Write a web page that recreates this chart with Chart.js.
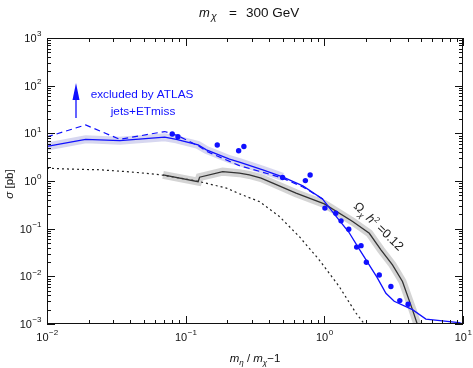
<!DOCTYPE html>
<html>
<head>
<meta charset="utf-8">
<script src="https://cdn.jsdelivr.net/npm/chart.js@4.4.1/dist/chart.umd.min.js"></script>
<style>
  html, body { margin: 0; padding: 0; background: #fff; }
</style>
</head>
<body>
<canvas id="c" width="473" height="368"></canvas>
<script>
// ATLAS jets+ETmiss limit, observed (solid) and expected (dashed)
var obsX = [0.01, 0.019, 0.0335, 0.0706, 0.0857, 0.123, 0.141, 0.207, 0.244, 0.36, 0.50, 0.70, 0.97, 1.2, 1.5, 1.8, 2.4, 2.78, 3.19, 4.32, 5.4, 9.35, 10];
var obsY = [5.3, 7.5, 7.0, 8.3, 7.5, 5.7, 4.5, 2.87, 2.5, 1.71, 1.22, 0.79, 0.42, 0.19, 0.085, 0.036, 0.0095, 0.0044, 0.003, 0.002, 0.00127, 0.00107, 0.001];
var expX = [0.01, 0.019, 0.0335, 0.0706, 0.087, 0.123, 0.141, 0.244, 0.34, 0.5, 0.7, 1.0];
var expY = [8.4, 15, 7.5, 10.9, 9.0, 5.5, 4.2, 2.1, 1.6, 1.15, 0.75, 0.40];

// relic density curve Omega h^2 = 0.12
var relicX = [0.0687, 0.123, 0.126, 0.185, 0.244, 0.288, 0.35, 0.425, 0.625, 1.0, 1.6, 2.11, 2.56, 3.1, 3.66, 4.32, 4.8];
var relicY = [1.34, 0.97, 1.2, 1.57, 1.46, 1.34, 1.15, 0.90, 0.555, 0.33, 0.141, 0.08, 0.036, 0.0174, 0.0078, 0.002, 0.0008];

// dotted theory curve
var thX = [0.01, 0.0155, 0.024, 0.04, 0.065, 0.1, 0.126, 0.16, 0.197, 0.244, 0.34, 0.474, 0.66, 0.92, 1.28, 1.69, 2.0];
var thY = [1.85, 1.77, 1.72, 1.55, 1.36, 1.1, 0.97, 0.82, 0.71, 0.54, 0.37, 0.18, 0.068, 0.022, 0.0061, 0.0017, 0.0009];

// blue points
var ptX = [0.080, 0.088, 0.169, 0.241, 0.263, 0.50, 0.73, 0.79, 1.01, 1.21, 1.32, 1.50, 1.71, 1.84, 2.01, 2.49, 3.02, 3.5, 4.02];
var ptY = [9.7, 8.5, 5.7, 4.3, 5.3, 1.18, 1.02, 1.34, 0.27, 0.21, 0.146, 0.097, 0.041, 0.044, 0.0198, 0.0107, 0.0061, 0.0031, 0.0026];

// tick label exponents
var xExps = [-2, -1, 0, 1];
var yExps = [-3, -2, -1, 0, 1, 2, 3];

var BLUE = '#1010ff';
var FONT = '"Liberation Sans", Arial, sans-serif';

function pts(xs, ys) {
    return xs.map(function (x, i) { return { x: x, y: ys[i] }; });
}

function line(data, color, width, dash, order) {
    return {
        type: 'line', data: data, borderColor: color, borderWidth: width,
        borderDash: dash || [], pointRadius: 0, tension: 0, fill: false,
        clip: 0, order: order
    };
}

function minus(e) { return String(e).replace('-', '\u2212'); }

// draws 10 with a raised exponent, anchored by alignment
function pow10(ctx, e, x, y, align) {
    ctx.font = '11px ' + FONT;
    var w1 = ctx.measureText('10').width;
    ctx.font = '8px ' + FONT;
    var s = minus(e);
    var w2 = ctx.measureText(s).width;
    var x0 = align === 'right' ? x - w1 - w2 : x - (w1 + w2) / 2;
    ctx.textAlign = 'left';
    ctx.textBaseline = 'middle';
    ctx.font = '11px ' + FONT;
    ctx.fillText('10', x0, y);
    ctx.font = '8px ' + FONT;
    ctx.fillText(s, x0 + w1 + 0.5, y - 5);
}

// draws a list of [text, font, dy] pieces one after another
function runs(ctx, parts, x, y, align) {
    var total = 0;
    parts.forEach(function (p) { ctx.font = p[1]; total += ctx.measureText(p[0]).width; });
    var cx = align === 'center' ? x - total / 2 : x;
    ctx.textAlign = 'left';
    ctx.textBaseline = 'alphabetic';
    parts.forEach(function (p) {
        ctx.font = p[1];
        ctx.fillText(p[0], cx, y + (p[2] || 0));
        cx += ctx.measureText(p[0]).width;
    });
}

var decor = {
    id: 'decor',
    afterDatasetsDraw: function (chart) {
        var ctx = chart.ctx, a = chart.chartArea;
        var xs = chart.scales.x, ys = chart.scales.y;
        ctx.save();
        ctx.strokeStyle = '#111';
        ctx.lineWidth = 1;
        ctx.strokeRect(a.left + 0.5, a.top + 0.5, a.right - a.left - 1, a.bottom - a.top - 1);

        ctx.beginPath();
        var e, m, v, p, len;
        for (e = -2; e <= 1; e++) {
            for (m = 1; m <= 9; m++) {
                v = m * Math.pow(10, e);
                if (v > 10.0001) break;
                p = Math.round(xs.getPixelForValue(v)) + 0.5;
                len = m === 1 ? 8 : 4;
                ctx.moveTo(p, a.bottom); ctx.lineTo(p, a.bottom - len);
                ctx.moveTo(p, a.top); ctx.lineTo(p, a.top + len);
            }
        }
        for (e = -3; e <= 3; e++) {
            for (m = 1; m <= 9; m++) {
                v = m * Math.pow(10, e);
                if (v > 1000.01) break;
                p = Math.round(ys.getPixelForValue(v)) + 0.5;
                len = m === 1 ? 8 : 4;
                ctx.moveTo(a.left, p); ctx.lineTo(a.left + len, p);
                ctx.moveTo(a.right, p); ctx.lineTo(a.right - len, p);
            }
        }
        ctx.stroke();

        ctx.fillStyle = '#111';
        xExps.forEach(function (e) {
            pow10(ctx, e, xs.getPixelForValue(Math.pow(10, e)), a.bottom + 14, 'center');
        });
        yExps.forEach(function (e) {
            pow10(ctx, e, a.left - 6, ys.getPixelForValue(Math.pow(10, e)) + 1, 'right');
        });

        // title
        ctx.textAlign = 'left';
        ctx.textBaseline = 'alphabetic';
        ctx.font = 'italic 13px ' + FONT;
        ctx.fillText('m', 199, 17);
        ctx.font = 'italic 10.5px ' + FONT;
        ctx.fillText('\u03c7', 211, 20);
        ctx.font = '13.5px ' + FONT;
        ctx.fillText('=', 229, 17);
        ctx.fillText('300 GeV', 246, 17);

        // x title
        runs(ctx, [
            ['m', 'italic 11.5px ' + FONT], ['\u03b7', 'italic 8px ' + FONT, 3],
            [' / ', '11.5px ' + FONT],
            ['m', 'italic 11.5px ' + FONT], ['\u03c7', 'italic 8px ' + FONT, 3],
            ['\u22121', '11.5px ' + FONT]
        ], 255, 362, 'center');

        // y title
        ctx.save();
        ctx.translate(13, 184);
        ctx.rotate(-Math.PI / 2);
        runs(ctx, [['\u03c3', 'italic 11.5px ' + FONT], [' [pb]', '11.5px ' + FONT]], 0, 0, 'center');
        ctx.restore();

        // relic label
        ctx.save();
        ctx.fillStyle = '#222';
        ctx.translate(353, 207);
        ctx.rotate(44 * Math.PI / 180);
        runs(ctx, [
            ['\u03a9', '12.5px ' + FONT], ['\u03c7', 'italic 8px ' + FONT, 3],
            [' h', 'italic 12.5px ' + FONT], ['2', '8px ' + FONT, -5],
            [' =0.12', '12.5px ' + FONT]
        ], 0, 0, 'left');
        ctx.restore();

        // excluded arrow and label
        ctx.fillStyle = BLUE;
        ctx.strokeStyle = BLUE;
        ctx.lineWidth = 1.3;
        ctx.beginPath();
        ctx.moveTo(76, 118); ctx.lineTo(76, 96);
        ctx.stroke();
        ctx.beginPath();
        ctx.moveTo(76, 83); ctx.lineTo(72.5, 100); ctx.lineTo(79.5, 100);
        ctx.closePath();
        ctx.fill();
        ctx.font = '11.8px ' + FONT;
        ctx.textAlign = 'center';
        ctx.textBaseline = 'middle';
        ctx.fillText('excluded by ATLAS', 142, 95);
        ctx.fillText('jets+ETmiss', 143, 112);
        ctx.restore();
    }
};

new Chart(document.getElementById('c'), {
    type: 'scatter',
    data: {
        datasets: [
            {
                data: pts(ptX, ptY), backgroundColor: BLUE, borderColor: BLUE,
                pointRadius: 2.7, pointBorderWidth: 0, clip: 0, order: 0
            },
            line(pts(obsX, obsY), BLUE, 1.3, null, 1),
            line(pts(expX, expY), BLUE, 1.2, [6, 4], 1),
            line(pts(relicX, relicY), '#333', 1.3, null, 1),
            line(pts(thX, thY), '#222', 1.2, [2, 3], 1),
            line(pts(obsX.slice(0, 11), obsY.slice(0, 11)), 'rgba(205,205,236,0.8)', 8, null, 5),
            line(pts(relicX, relicY), 'rgba(204,204,204,0.85)', 8, null, 5)
        ]
    },
    options: {
        responsive: false,
        animation: false,
        devicePixelRatio: 1,
        layout: { padding: { left: 47, right: 10, top: 38, bottom: 44 } },
        plugins: { legend: { display: false }, tooltip: { enabled: false } },
        scales: {
            x: { type: 'logarithmic', min: 0.01, max: 10, display: false },
            y: { type: 'logarithmic', min: 0.001, max: 1000, display: false }
        }
    },
    plugins: [decor]
});
</script>
</body>
</html>
